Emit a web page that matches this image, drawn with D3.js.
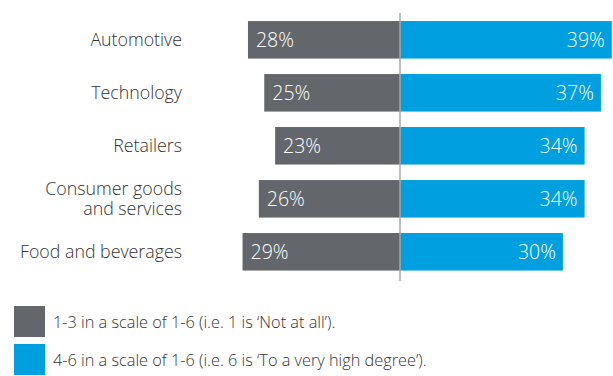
<!DOCTYPE html>
<html>
<head>
<meta charset="utf-8">
<script src="https://cdn.jsdelivr.net/npm/d3@7"></script>
<style>
  html, body { margin: 0; padding: 0; background: #fff; }
  svg { display: block; }
  text { font-family: "Open Sans", "Noto Sans", sans-serif; font-weight: 300; }
</style>
</head>
<body>
<svg id="chart" width="613" height="376"></svg>
<script>
// Survey shares per industry
const categories = ["Automotive", "Technology", "Retailers", "Consumer goods\nand services", "Food and beverages"];
const lowValues = [28, 25, 23, 26, 29];   // 1-3 on the scale
const highValues = [39, 37, 34, 34, 30];  // 4-6 on the scale
const legendLabels = [
  "1-3 in a scale of 1-6 (i.e. 1 is \u2018Not at all\u2019).",
  "4-6 in a scale of 1-6 (i.e. 6 is \u2018To a very high degree\u2019)."
];
const colors = ["#63676b", "#009fdf"];

const svg = d3.select("#chart");
const cx = 400;
const pxPerPct = 5.43;

const xLow = d3.scaleLinear().domain([0, 100]).range([cx, cx - 100 * pxPerPct]);
const xHigh = d3.scaleLinear().domain([0, 100]).range([cx, cx + 100 * pxPerPct]);
const y = d3.scaleBand().domain(categories).range([13.3, 278.3]).paddingInner(0.292).paddingOuter(0.146);

const rows = categories.map((c, i) => ({ c, low: lowValues[i], high: highValues[i] }));

// low (grey) bars extending left from the centre line
svg.append("g").selectAll("rect").data(rows).join("rect")
  .attr("x", d => xLow(d.low))
  .attr("y", d => y(d.c))
  .attr("width", d => xLow(0) - xLow(d.low))
  .attr("height", y.bandwidth())
  .attr("fill", colors[0]);

// high (blue) bars extending right
svg.append("g").selectAll("rect").data(rows).join("rect")
  .attr("x", xHigh(0))
  .attr("y", d => y(d.c))
  .attr("width", d => xHigh(d.high) - xHigh(0))
  .attr("height", y.bandwidth())
  .attr("fill", colors[1]);

// centre divider
svg.append("line")
  .attr("x1", cx).attr("x2", cx)
  .attr("y1", 13).attr("y2", 281)
  .attr("stroke", "#a8a8a8").attr("stroke-width", 1.5);

// value labels
svg.append("g").selectAll("text").data(rows).join("text")
  .attr("x", d => xLow(d.low) + 8)
  .attr("y", d => y(d.c) + y.bandwidth() / 2)
  .attr("dy", "0.36em")
  .attr("fill", "#fff")
  .attr("font-size", 19.5)
  .text(d => d.low + "%");

svg.append("g").selectAll("text").data(rows).join("text")
  .attr("x", d => xHigh(d.high) - 7)
  .attr("y", d => y(d.c) + y.bandwidth() / 2)
  .attr("dy", "0.36em")
  .attr("text-anchor", "end")
  .attr("fill", "#fff")
  .attr("font-size", 19.5)
  .text(d => d.high + "%");

// category labels, one text per line
const catRows = rows.flatMap(d => {
  const lines = d.c.split("\n");
  const mid = y(d.c) + y.bandwidth() / 2;
  return lines.map((ln, k) => ({ ln, yy: mid + (k - (lines.length - 1) / 2) * 20 }));
});
svg.append("g").selectAll("text").data(catRows).join("text")
  .attr("x", 182)
  .attr("y", d => d.yy)
  .attr("dy", "0.36em")
  .attr("text-anchor", "end")
  .attr("fill", "#333")
  .attr("font-size", 17.8)
  .text(d => d.ln);

// legend
const legend = svg.append("g").selectAll("g").data(legendLabels).join("g")
  .attr("transform", (d, i) => `translate(14, ${306 + i * 38})`);
legend.append("rect")
  .attr("width", 31).attr("height", 31)
  .attr("fill", (d, i) => colors[i]);
legend.append("text")
  .attr("x", 39).attr("y", 16).attr("dy", "0.36em")
  .attr("fill", "#333").attr("font-size", 16.3)
  .text(d => d);
</script>
</body>
</html>
